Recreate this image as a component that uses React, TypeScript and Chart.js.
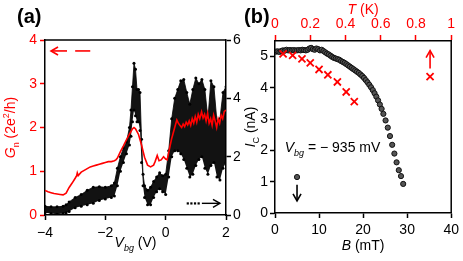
import React, { useEffect, useRef } from 'react';
import { Chart, registerables } from 'chart.js';

Chart.register(...registerables);

const RED = 'rgb(255,0,0)';
const FONT = '"Liberation Sans", Arial, Helvetica, sans-serif';

// ---------- Panel (a) ----------
const vbgGn = [-4.0, -3.9, -3.8, -3.7, -3.6, -3.5, -3.4, -3.3, -3.2, -3.1, -3.0, -2.95, -2.93, -2.9, -2.8, -2.7, -2.6, -2.5, -2.4, -2.3, -2.2, -2.1, -2.0, -1.9, -1.8, -1.7, -1.65, -1.6, -1.5, -1.4, -1.3, -1.2, -1.1, -1.05, -1.0, -0.9, -0.8, -0.7, -0.6, -0.5, -0.4, -0.35, -0.28, -0.22, -0.15, -0.07, 0.0, 0.05, 0.14, 0.2, 0.3, 0.37, 0.42, 0.47, 0.53, 0.58, 0.63, 0.68, 0.73, 0.78, 0.83, 0.88, 0.93, 0.98, 1.03, 1.08, 1.13, 1.19, 1.24, 1.29, 1.34, 1.39, 1.44, 1.49, 1.54, 1.59, 1.64, 1.69, 1.74, 1.79, 1.84, 1.89, 1.94, 2.0];
const gnVals = [0.56, 0.53, 0.51, 0.49, 0.48, 0.47, 0.46, 0.5, 0.63, 0.73, 0.84, 0.9, 0.96, 0.9, 0.98, 1.02, 1.06, 1.1, 1.12, 1.14, 1.16, 1.18, 1.2, 1.22, 1.22, 1.24, 1.26, 1.3, 1.45, 1.58, 1.72, 1.85, 1.97, 2.0, 1.97, 1.84, 1.6, 1.32, 1.14, 1.1, 1.14, 1.22, 1.36, 1.24, 1.26, 1.33, 1.28, 1.26, 1.56, 1.75, 2.0, 2.17, 2.1, 2.05, 2.0, 2.08, 2.02, 2.12, 2.06, 2.15, 2.05, 2.2, 2.1, 2.25, 2.12, 2.3, 2.2, 2.36, 2.22, 2.3, 2.15, 2.32, 2.1, 2.2, 2.05, 2.28, 2.15, 2.0, 2.2, 2.1, 2.28, 2.2, 2.36, 2.4];

const vbgIc = [-4.0, -3.8, -3.6, -3.4, -3.3, -3.2, -3.0, -2.8, -2.6, -2.4, -2.2, -2.0, -1.8, -1.7, -1.6, -1.5, -1.4, -1.3, -1.2, -1.15, -1.1, -1.05, -1.0, -0.95, -0.9, -0.85, -0.8, -0.75, -0.7, -0.6, -0.5, -0.4, -0.3, -0.2, -0.1, 0.0, 0.1, 0.2, 0.3, 0.4, 0.5, 0.6, 0.7, 0.8, 0.9, 1.0, 1.1, 1.2, 1.3, 1.4, 1.5, 1.6, 1.7, 1.8, 1.9, 2.0];
const icHigh = [0.3, 0.28, 0.28, 0.3, 0.35, 0.45, 0.6, 0.7, 0.85, 0.95, 0.97, 0.95, 1.0, 1.1, 1.6, 2.0, 2.3, 2.5, 3.0, 3.6, 4.4, 5.2, 5.0, 4.3, 4.3, 4.2, 2.6, 1.4, 1.0, 0.85, 0.95, 1.15, 1.3, 1.45, 1.35, 1.4, 2.2, 3.3, 4.0, 4.3, 4.6, 4.65, 4.2, 3.8, 4.3, 4.7, 4.5, 4.65, 4.3, 3.3, 4.6, 4.4, 3.2, 3.3, 4.2, 4.4];
const icLow = [0.08, 0.05, 0.03, 0.05, 0.08, 0.12, 0.25, 0.3, 0.35, 0.4, 0.5, 0.55, 0.6, 0.65, 1.0, 1.5, 1.8, 2.1, 2.4, 2.7, 3.2, 3.6, 3.4, 3.2, 3.2, 2.9, 1.8, 1.0, 0.6, 0.35, 0.35, 0.6, 0.8, 0.9, 0.8, 0.7, 1.3, 2.0, 2.2, 2.2, 2.1, 1.9, 1.6, 1.3, 1.4, 1.7, 1.9, 2.0, 1.6, 1.4, 1.7, 1.8, 1.3, 1.2, 1.6, 1.8];

const vbgTicks = [-4, -2, 0, 2];
const gnTicks = [0, 1, 2, 3, 4];
const icTicksA = [0, 2, 4, 6];

// annotation anchors (data units)
const redArrowA = { tip: -3.8, seg1End: -3.27, seg2Start: -3.0, seg2End: -2.5, g: 3.75 };
const blackArrowA = { dots: [0.73, 0.85, 0.97, 1.09], start: 1.2, tip: 1.8, ic: 0.4 };

// ---------- Panel (b) ----------
const bField = [0.2, 0.6, 1.0, 1.4, 1.8, 2.2, 2.6, 3.0, 3.4, 3.8, 4.2, 4.6, 5.0, 5.4, 5.8, 6.2, 6.6, 7.0, 7.4, 7.8, 8.2, 8.6, 9.0, 9.4, 9.8, 10.2, 10.6, 11.0, 11.4, 11.8, 12.2, 12.6, 13.0, 13.4, 13.8, 14.2, 14.6, 15.0, 15.4, 15.8, 16.2, 16.6, 17.0, 17.4, 17.8, 18.2, 18.6, 19.0, 19.4, 19.8, 20.2, 20.6, 21.0, 21.4, 21.8, 22.2, 22.6, 23.0, 23.4, 23.8, 24.2, 24.6, 25.1, 25.6, 26.1, 26.6, 27.1, 27.6, 28.1, 28.6, 29.1];
const icB = [5.16, 5.17, 5.15, 5.18, 5.2, 5.19, 5.22, 5.2, 5.21, 5.2, 5.21, 5.2, 5.2, 5.21, 5.2, 5.22, 5.21, 5.2, 5.22, 5.26, 5.28, 5.24, 5.22, 5.26, 5.24, 5.2, 5.22, 5.18, 5.14, 5.1, 5.07, 5.03, 4.99, 4.96, 4.94, 4.92, 4.9, 4.86, 4.83, 4.8, 4.76, 4.72, 4.68, 4.64, 4.6, 4.56, 4.52, 4.48, 4.43, 4.38, 4.32, 4.25, 4.18, 4.1, 4.02, 3.93, 3.83, 3.72, 3.6, 3.47, 3.33, 3.17, 2.96, 2.73, 2.46, 2.18, 1.9, 1.62, 1.37, 1.18, 0.93];

const tempK = [0.046, 0.1, 0.153, 0.2, 0.25, 0.3, 0.354, 0.404, 0.45];
const icT = [5.09, 5.04, 4.93, 4.8, 4.59, 4.42, 4.19, 3.87, 3.56];

const bTicks = [0, 10, 20, 30, 40];
const tTicks = [0, 0.2, 0.4, 0.6, 0.8, 1];
const icTicksB = [0, 1, 2, 3, 4, 5];

const markerT = { t: 0.88, ic: 4.36, arrowFrom: 4.62, arrowTo: 5.19 };
const markerB = { b: 5, ic: 1.15, arrowFrom: 0.9, arrowTo: 0.39 };
const labelB = { b: 2.2, ic: 1.96 };

// ---------- helpers ----------
type Part = { t: string; it?: boolean; sub?: boolean; sup?: boolean };

function drawRich(ctx: CanvasRenderingContext2D, parts: Part[], x: number, y: number, size: number, color: string, align: 'left' | 'center', rot = 0) {
  ctx.save();
  ctx.translate(x, y);
  if (rot) ctx.rotate(rot);
  ctx.fillStyle = color;
  ctx.textBaseline = 'alphabetic';
  ctx.textAlign = 'left';
  const fontFor = (p: Part) => `${p.it ? 'italic ' : ''}${p.sub || p.sup ? Math.round(size * 0.66) : size}px ${FONT}`;
  let w = 0;
  const widths = parts.map((p) => {
    ctx.font = fontFor(p);
    const m = ctx.measureText(p.t).width;
    w += m;
    return m;
  });
  let cx = align === 'center' ? -w / 2 : 0;
  parts.forEach((p, i) => {
    ctx.font = fontFor(p);
    const dy = p.sub ? size * 0.3 : p.sup ? -size * 0.4 : 0;
    ctx.fillText(p.t, cx, dy);
    cx += widths[i];
  });
  ctx.restore();
}

function head(ctx: CanvasRenderingContext2D, x: number, y: number, dx: number, dy: number, len: number, half: number) {
  const px = -dy, py = dx;
  ctx.beginPath();
  ctx.moveTo(x - dx * len + px * half, y - dy * len + py * half);
  ctx.lineTo(x, y);
  ctx.lineTo(x - dx * len - px * half, y - dy * len - py * half);
  ctx.stroke();
}

function line(ctx: CanvasRenderingContext2D, x1: number, y1: number, x2: number, y2: number) {
  ctx.beginPath();
  ctx.moveTo(x1, y1);
  ctx.lineTo(x2, y2);
  ctx.stroke();
}

const fixTicks = (vals: number[]) => (scale: any) => {
  scale.ticks = vals.map((v) => ({ value: v }));
};
const minus = (v: number) => (v < 0 ? '\u2212' + Math.abs(v) : String(v));

const tickFont = { family: FONT, size: 14 };

export default function App() {
  const refA = useRef<HTMLCanvasElement>(null);
  const refB = useRef<HTMLCanvasElement>(null);

  useEffect(() => {
    Chart.defaults.font.family = FONT;

    const framePluginA = {
      id: 'frameA',
      afterDraw(chart: any) {
        const ctx = chart.ctx as CanvasRenderingContext2D;
        const { left, right, top, bottom } = chart.chartArea;
        const xs = chart.scales.x, yl = chart.scales.y, yr = chart.scales.y2;
        ctx.save();
        ctx.strokeStyle = '#000';
        ctx.lineWidth = 1.5;
        line(ctx, left, top, right, top);
        ctx.fillStyle = '#000';
        ctx.font = `bold 20px ${FONT}`;
        ctx.textAlign = 'left';
        ctx.textBaseline = 'alphabetic';
        ctx.fillText('(a)', 17, 23);
        drawRich(ctx, [{ t: 'G', it: true }, { t: 'n', sub: true }, { t: ' (2e' }, { t: '2', sup: true }, { t: '/h)' }], 15, (top + bottom) / 2, 14, RED, 'center', -Math.PI / 2);
        drawRich(ctx, [{ t: 'V', it: true }, { t: 'bg', it: true, sub: true }, { t: ' (V)' }], (left + right) / 2, 247, 14, '#000', 'center');
        ctx.strokeStyle = RED;
        ctx.lineWidth = 1.6;
        const ry = yl.getPixelForValue(redArrowA.g);
        const tipX = xs.getPixelForValue(redArrowA.tip);
        line(ctx, tipX, ry, xs.getPixelForValue(redArrowA.seg1End), ry);
        line(ctx, xs.getPixelForValue(redArrowA.seg2Start), ry, xs.getPixelForValue(redArrowA.seg2End), ry);
        head(ctx, tipX, ry, -1, 0, 7, 4);
        ctx.strokeStyle = '#000';
        ctx.fillStyle = '#000';
        ctx.lineWidth = 1.4;
        const by = yr.getPixelForValue(blackArrowA.ic);
        blackArrowA.dots.forEach((d) => {
          const px = xs.getPixelForValue(d);
          ctx.fillRect(px - 1, by - 1, 2.2, 2.2);
        });
        const bTip = xs.getPixelForValue(blackArrowA.tip);
        line(ctx, xs.getPixelForValue(blackArrowA.start), by, bTip, by);
        head(ctx, bTip, by, 1, 0, 7, 4);
        ctx.restore();
      },
    };

    const chartA = new Chart(refA.current!, {
      type: 'line',
      data: {
        datasets: [
          {
            label: 'Gn',
            data: vbgGn.map((x, i) => ({ x, y: gnVals[i] })),
            yAxisID: 'y',
            borderColor: RED,
            borderWidth: 1.6,
            pointRadius: 0,
            fill: false,
            tension: 0,
            order: 0,
          },
          {
            label: 'IcLow',
            data: vbgIc.map((x, i) => ({ x, y: icLow[i] })),
            yAxisID: 'y2',
            showLine: false,
            borderWidth: 0,
            pointRadius: 1.5,
            pointBackgroundColor: '#000',
            pointBorderWidth: 0,
            fill: false,
            order: 2,
          },
          {
            label: 'IcHigh',
            data: vbgIc.map((x, i) => ({ x, y: icHigh[i] })),
            yAxisID: 'y2',
            borderColor: '#000',
            borderWidth: 0.8,
            pointRadius: 1.5,
            pointBackgroundColor: '#000',
            pointBorderWidth: 0,
            backgroundColor: 'rgba(0,0,0,0.93)',
            fill: '-1',
            tension: 0,
            order: 1,
          },
        ],
      },
      options: {
        responsive: false,
        animation: false,
        devicePixelRatio: 1,
        events: [],
        layout: { padding: { top: 40, left: 0, right: 0, bottom: 0 } },
        plugins: { legend: { display: false }, tooltip: { enabled: false }, title: { display: false } },
        scales: {
          x: {
            type: 'linear',
            min: -4,
            max: 2,
            afterBuildTicks: fixTicks(vbgTicks),
            afterFit: (s: any) => { s.height = 46; },
            ticks: { color: '#000', font: tickFont, padding: 5, maxRotation: 0, callback: (v: any) => minus(Number(v)) },
            grid: { drawOnChartArea: false, drawTicks: true, tickLength: 5, tickColor: '#000', tickWidth: 1.5 },
            border: { color: '#000', width: 1.5 },
          },
          y: {
            type: 'linear',
            position: 'left',
            min: 0,
            max: 4,
            afterBuildTicks: fixTicks(gnTicks),
            afterFit: (s: any) => { s.width = 45; },
            ticks: { color: RED, font: tickFont, padding: 3 },
            grid: { drawOnChartArea: false, drawTicks: true, tickLength: 5, tickColor: RED, tickWidth: 1.5 },
            border: { color: '#000', width: 1.5 },
          },
          y2: {
            type: 'linear',
            position: 'right',
            min: 0,
            max: 6,
            afterBuildTicks: fixTicks(icTicksA),
            afterFit: (s: any) => { s.width = 24; },
            ticks: { color: '#000', font: tickFont, padding: 2 },
            grid: { drawOnChartArea: false, drawTicks: true, tickLength: 5, tickColor: '#000', tickWidth: 1.5 },
            border: { color: '#000', width: 1.5 },
          },
        },
      },
      plugins: [framePluginA],
    } as any);

    const framePluginB = {
      id: 'frameB',
      afterDraw(chart: any) {
        const ctx = chart.ctx as CanvasRenderingContext2D;
        const { left, right, top, bottom } = chart.chartArea;
        const xs = chart.scales.x, xt = chart.scales.x2, ys = chart.scales.y;
        ctx.save();
        ctx.strokeStyle = '#000';
        ctx.lineWidth = 1.5;
        line(ctx, right, top, right, bottom);
        ctx.fillStyle = '#000';
        ctx.font = `bold 20px ${FONT}`;
        ctx.textAlign = 'left';
        ctx.textBaseline = 'alphabetic';
        ctx.fillText('(b)', 9, 23);
        drawRich(ctx, [{ t: 'I', it: true }, { t: 'C', sub: true }, { t: ' (nA)' }], 20, (top + bottom) / 2, 14, '#000', 'center', -Math.PI / 2);
        drawRich(ctx, [{ t: 'B', it: true }, { t: ' (mT)' }], (left + right) / 2, 250, 14, '#000', 'center');
        drawRich(ctx, [{ t: 'T', it: true }, { t: ' (K)' }], (left + right) / 2, 14, 14, RED, 'center');
        drawRich(ctx, [{ t: 'V', it: true }, { t: 'bg', it: true, sub: true }, { t: ' = \u2212 935 mV' }], xs.getPixelForValue(labelB.b), ys.getPixelForValue(labelB.ic), 14, '#000', 'left');
        ctx.strokeStyle = RED;
        ctx.lineWidth = 1.6;
        const rx = xt.getPixelForValue(markerT.t);
        const rTip = ys.getPixelForValue(markerT.arrowTo);
        line(ctx, rx, ys.getPixelForValue(markerT.arrowFrom), rx, rTip);
        head(ctx, rx, rTip, 0, -1, 7, 4);
        ctx.strokeStyle = '#000';
        const bx = xs.getPixelForValue(markerB.b);
        const bTip = ys.getPixelForValue(markerB.arrowTo);
        line(ctx, bx, ys.getPixelForValue(markerB.arrowFrom), bx, bTip);
        head(ctx, bx, bTip, 0, 1, 7, 4);
        ctx.restore();
      },
    };

    const chartB = new Chart(refB.current!, {
      type: 'scatter',
      data: {
        datasets: [
          {
            label: 'Ic(T)',
            data: tempK.map((x, i) => ({ x, y: icT[i] })),
            xAxisID: 'x2',
            pointStyle: 'crossRot',
            pointRadius: 5,
            borderColor: RED,
            borderWidth: 1.8,
            order: 0,
          },
          {
            label: 'markerT',
            data: [{ x: markerT.t, y: markerT.ic }],
            xAxisID: 'x2',
            pointStyle: 'crossRot',
            pointRadius: 5,
            borderColor: RED,
            borderWidth: 1.8,
            order: 0,
          },
          {
            label: 'Ic(B)',
            data: bField.map((x, i) => ({ x, y: icB[i] })),
            xAxisID: 'x',
            pointRadius: 2.6,
            backgroundColor: '#555',
            borderColor: '#111',
            borderWidth: 1,
            order: 1,
          },
          {
            label: 'markerB',
            data: [{ x: markerB.b, y: markerB.ic }],
            xAxisID: 'x',
            pointRadius: 2.6,
            backgroundColor: '#555',
            borderColor: '#111',
            borderWidth: 1,
            order: 1,
          },
        ],
      },
      options: {
        responsive: false,
        animation: false,
        devicePixelRatio: 1,
        events: [],
        layout: { padding: { top: 0, left: 0, right: 9, bottom: 0 } },
        plugins: { legend: { display: false }, tooltip: { enabled: false }, title: { display: false } },
        scales: {
          x: {
            type: 'linear',
            position: 'bottom',
            min: 0,
            max: 40,
            afterBuildTicks: fixTicks(bTicks),
            afterFit: (s: any) => { s.height = 48; },
            ticks: { color: '#000', font: tickFont, padding: 4, maxRotation: 0 },
            grid: { drawOnChartArea: false, drawTicks: true, tickLength: 5, tickColor: '#000', tickWidth: 1.5 },
            border: { color: '#000', width: 1.5 },
          },
          x2: {
            type: 'linear',
            position: 'top',
            min: 0,
            max: 1,
            afterBuildTicks: fixTicks(tTicks),
            afterFit: (s: any) => { s.height = 41; },
            ticks: { color: RED, font: tickFont, padding: 2, maxRotation: 0, callback: (v: any) => String(Number(Number(v).toFixed(1))) },
            grid: { drawOnChartArea: false, drawTicks: true, tickLength: 6, tickColor: RED, tickWidth: 1.5 },
            border: { color: '#000', width: 1.5 },
          },
          y: {
            type: 'linear',
            position: 'left',
            min: 0,
            max: 5.5,
            afterBuildTicks: fixTicks(icTicksB),
            afterFit: (s: any) => { s.width = 40; },
            ticks: { color: '#000', font: tickFont, padding: 2 },
            grid: { drawOnChartArea: false, drawTicks: true, tickLength: 5, tickColor: '#000', tickWidth: 1.5 },
            border: { color: '#000', width: 1.5 },
          },
        },
      },
      plugins: [framePluginB],
    } as any);

    return () => {
      chartA.destroy();
      chartB.destroy();
    };
  }, []);

  return (
    <div style={{ position: 'fixed', left: 0, top: 0, width: 463, height: 261, background: '#fff', overflow: 'hidden' }}>
      <canvas ref={refA} width={250} height={261} style={{ position: 'absolute', left: 0, top: 0, width: 250, height: 261 }} />
      <canvas ref={refB} width={228} height={261} style={{ position: 'absolute', left: 235, top: 0, width: 228, height: 261 }} />
    </div>
  );
}
